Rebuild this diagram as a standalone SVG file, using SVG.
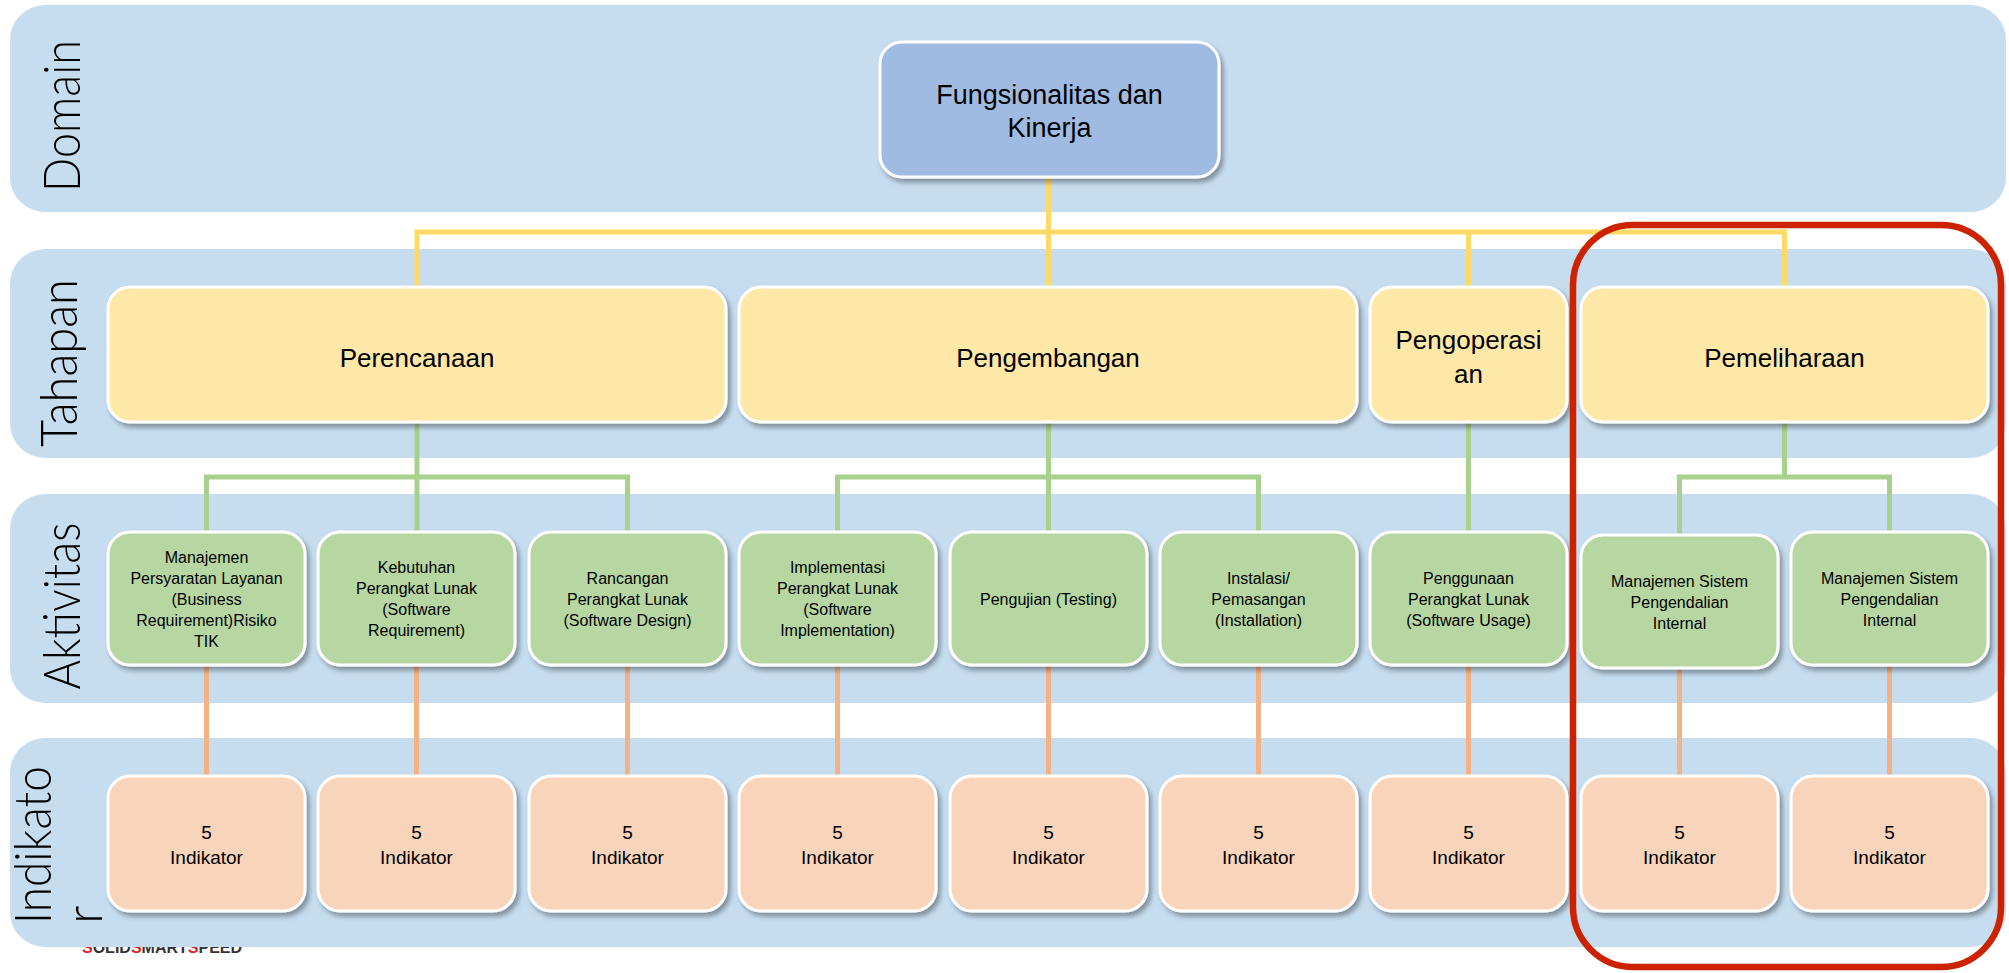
<svg xmlns="http://www.w3.org/2000/svg" width="2009" height="973" viewBox="0 0 2009 973">
<style>
.band{fill:#C6DDF0}
.lbl{font-family:Lato,"Liberation Sans",Arial,sans-serif;font-weight:300;font-size:52px;fill:#000}
.box{stroke:#fff;stroke-width:3}
.dom{fill:#A0BBE2}
.tah{fill:#FEE8A8}
.akt{fill:#B7D7A2}
.ind{fill:#F8D4BB}
.t{font-family:"Liberation Sans",Arial,sans-serif;fill:#000;text-anchor:middle}
.t27{font-size:27px}
.t24{font-size:26px}
.t16{font-size:16px}
.t19{font-size:19px}
.cy{fill:none;stroke:#FFD966;stroke-width:5}
.cg{fill:none;stroke:#A9D18E;stroke-width:5}
.co{fill:none;stroke:#F4B183;stroke-width:5}
</style>
<defs>
<filter id="sh" x="-10%" y="-10%" width="130%" height="140%">
<feDropShadow dx="3" dy="4" stdDeviation="2.5" flood-color="#000" flood-opacity="0.35"/>
</filter>
</defs>
<rect width="2009" height="973" fill="#fff"/>
<text x="82" y="953" font-family="'Liberation Sans',Arial,sans-serif" font-size="16" font-weight="bold" fill="#333"><tspan fill="#E0202A">S</tspan>OLID<tspan fill="#E0202A">S</tspan>MART<tspan fill="#E0202A">S</tspan>PEED</text>
<g id="bands">
<rect class="band" x="10" y="5" width="1996" height="207" rx="35"/>
<rect class="band" x="10" y="249" width="1996" height="209" rx="35"/>
<rect class="band" x="10" y="494" width="1996" height="209" rx="35"/>
<rect class="band" x="10" y="738" width="1996" height="209" rx="35"/>
</g>
<g id="band-labels">
<text class="lbl" transform="translate(80,116) rotate(-90)" text-anchor="middle" textLength="152" lengthAdjust="spacingAndGlyphs">Domain</text>
<text class="lbl" transform="translate(77,363) rotate(-90)" text-anchor="middle" textLength="168" lengthAdjust="spacingAndGlyphs">Tahapan</text>
<text class="lbl" transform="translate(80,606) rotate(-90)" text-anchor="middle" textLength="167" lengthAdjust="spacingAndGlyphs">Aktivitas</text>
<text class="lbl" transform="translate(51,924) rotate(-90)" textLength="158" lengthAdjust="spacingAndGlyphs">Indikato</text>
<text class="lbl" transform="translate(102,924) rotate(-90)">r</text>
</g>
<g id="connectors">
<path class="cy" d="M1048.5,177 V287 M417,287 V232 H1784.5 V287 M1468.5,232 V287"/>
<path class="cg" d="M417,422 V532 M206.5,532 V477 H627.5 V532"/>
<path class="cg" d="M1048.5,422 V532 M837.5,532 V477 H1258.5 V532"/>
<path class="cg" d="M1468.5,422 V532"/>
<path class="cg" d="M1784.5,422 V477 M1679.5,535 V477 H1889.5 V532"/>
<path class="co" d="M206.5,665 V776 M416.5,665 V776 M627.5,665 V776 M837.5,665 V776 M1048.5,665 V776 M1258.5,665 V776 M1468.5,665 V776 M1679.5,668 V776 M1889.5,665 V776"/>
</g>
<g id="node-domain">
<rect class="box dom" x="880" y="42" width="339" height="135" rx="22" filter="url(#sh)"/>
<text class="t t27" x="1049.5" y="104">Fungsionalitas dan</text>
<text class="t t27" x="1049.5" y="137">Kinerja</text>
</g>
<g id="node-perencanaan">
<rect class="box tah" x="108" y="287" width="618" height="135" rx="22" filter="url(#sh)"/>
<text class="t t24" x="417" y="367">Perencanaan</text>
</g>
<g id="node-pengembangan">
<rect class="box tah" x="739" y="287" width="618" height="135" rx="22" filter="url(#sh)"/>
<text class="t t24" x="1048" y="367">Pengembangan</text>
</g>
<g id="node-pengoperasian">
<rect class="box tah" x="1370" y="287" width="197" height="135" rx="22" filter="url(#sh)"/>
<text class="t t24" x="1468.5" y="349">Pengoperasi</text>
<text class="t t24" x="1468.5" y="383">an</text>
</g>
<g id="node-pemeliharaan">
<rect class="box tah" x="1581" y="287" width="407" height="135" rx="22" filter="url(#sh)"/>
<text class="t t24" x="1784.5" y="367">Pemeliharaan</text>
</g>
<g id="node-a1">
<rect class="box akt" x="108" y="532" width="197" height="133" rx="22" filter="url(#sh)"/>
<text class="t t16" x="206.5" y="563">Manajemen</text>
<text class="t t16" x="206.5" y="584">Persyaratan Layanan</text>
<text class="t t16" x="206.5" y="605">(Business</text>
<text class="t t16" x="206.5" y="626">Requirement)Risiko</text>
<text class="t t16" x="206.5" y="647">TIK</text>
</g>
<g id="node-a2">
<rect class="box akt" x="318" y="532" width="197" height="133" rx="22" filter="url(#sh)"/>
<text class="t t16" x="416.5" y="573">Kebutuhan</text>
<text class="t t16" x="416.5" y="594">Perangkat Lunak</text>
<text class="t t16" x="416.5" y="615">(Software</text>
<text class="t t16" x="416.5" y="636">Requirement)</text>
</g>
<g id="node-a3">
<rect class="box akt" x="529" y="532" width="197" height="133" rx="22" filter="url(#sh)"/>
<text class="t t16" x="627.5" y="584">Rancangan</text>
<text class="t t16" x="627.5" y="605">Perangkat Lunak</text>
<text class="t t16" x="627.5" y="626">(Software Design)</text>
</g>
<g id="node-a4">
<rect class="box akt" x="739" y="532" width="197" height="133" rx="22" filter="url(#sh)"/>
<text class="t t16" x="837.5" y="573">Implementasi</text>
<text class="t t16" x="837.5" y="594">Perangkat Lunak</text>
<text class="t t16" x="837.5" y="615">(Software</text>
<text class="t t16" x="837.5" y="636">Implementation)</text>
</g>
<g id="node-a5">
<rect class="box akt" x="950" y="532" width="197" height="133" rx="22" filter="url(#sh)"/>
<text class="t t16" x="1048.5" y="605">Pengujian (Testing)</text>
</g>
<g id="node-a6">
<rect class="box akt" x="1160" y="532" width="197" height="133" rx="22" filter="url(#sh)"/>
<text class="t t16" x="1258.5" y="584">Instalasi/</text>
<text class="t t16" x="1258.5" y="605">Pemasangan</text>
<text class="t t16" x="1258.5" y="626">(Installation)</text>
</g>
<g id="node-a7">
<rect class="box akt" x="1370" y="532" width="197" height="133" rx="22" filter="url(#sh)"/>
<text class="t t16" x="1468.5" y="584">Penggunaan</text>
<text class="t t16" x="1468.5" y="605">Perangkat Lunak</text>
<text class="t t16" x="1468.5" y="626">(Software Usage)</text>
</g>
<g id="node-a8">
<rect class="box akt" x="1581" y="535" width="197" height="133" rx="22" filter="url(#sh)"/>
<text class="t t16" x="1679.5" y="587">Manajemen Sistem</text>
<text class="t t16" x="1679.5" y="608">Pengendalian</text>
<text class="t t16" x="1679.5" y="629">Internal</text>
</g>
<g id="node-a9">
<rect class="box akt" x="1791" y="532" width="197" height="133" rx="22" filter="url(#sh)"/>
<text class="t t16" x="1889.5" y="584">Manajemen Sistem</text>
<text class="t t16" x="1889.5" y="605">Pengendalian</text>
<text class="t t16" x="1889.5" y="626">Internal</text>
</g>
<g id="node-i1"><rect class="box ind" x="108" y="776" width="197" height="135" rx="22" filter="url(#sh)"/><text class="t t19" x="206.5" y="839">5</text><text class="t t19" x="206.5" y="864">Indikator</text></g>
<g id="node-i2"><rect class="box ind" x="318" y="776" width="197" height="135" rx="22" filter="url(#sh)"/><text class="t t19" x="416.5" y="839">5</text><text class="t t19" x="416.5" y="864">Indikator</text></g>
<g id="node-i3"><rect class="box ind" x="529" y="776" width="197" height="135" rx="22" filter="url(#sh)"/><text class="t t19" x="627.5" y="839">5</text><text class="t t19" x="627.5" y="864">Indikator</text></g>
<g id="node-i4"><rect class="box ind" x="739" y="776" width="197" height="135" rx="22" filter="url(#sh)"/><text class="t t19" x="837.5" y="839">5</text><text class="t t19" x="837.5" y="864">Indikator</text></g>
<g id="node-i5"><rect class="box ind" x="950" y="776" width="197" height="135" rx="22" filter="url(#sh)"/><text class="t t19" x="1048.5" y="839">5</text><text class="t t19" x="1048.5" y="864">Indikator</text></g>
<g id="node-i6"><rect class="box ind" x="1160" y="776" width="197" height="135" rx="22" filter="url(#sh)"/><text class="t t19" x="1258.5" y="839">5</text><text class="t t19" x="1258.5" y="864">Indikator</text></g>
<g id="node-i7"><rect class="box ind" x="1370" y="776" width="197" height="135" rx="22" filter="url(#sh)"/><text class="t t19" x="1468.5" y="839">5</text><text class="t t19" x="1468.5" y="864">Indikator</text></g>
<g id="node-i8"><rect class="box ind" x="1581" y="776" width="197" height="135" rx="22" filter="url(#sh)"/><text class="t t19" x="1679.5" y="839">5</text><text class="t t19" x="1679.5" y="864">Indikator</text></g>
<g id="node-i9"><rect class="box ind" x="1791" y="776" width="197" height="135" rx="22" filter="url(#sh)"/><text class="t t19" x="1889.5" y="839">5</text><text class="t t19" x="1889.5" y="864">Indikator</text></g>
<g id="highlight">
<rect x="1573" y="225" width="428" height="742" rx="60" fill="none" stroke="#CC2200" stroke-width="6.5"/>
</g>
</svg>
